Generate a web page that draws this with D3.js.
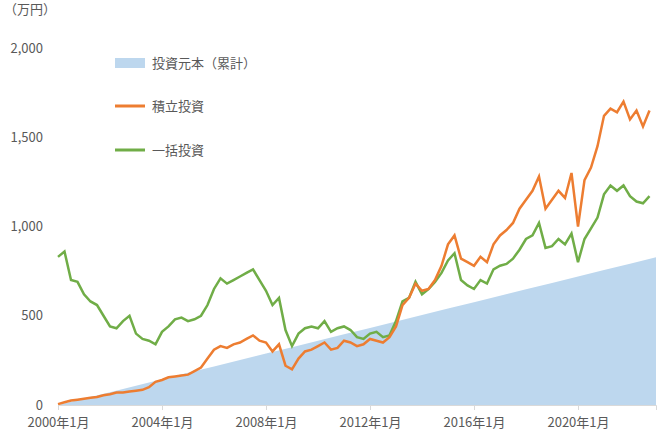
<!DOCTYPE html>
<html><head><meta charset="utf-8">
<script src="https://cdn.jsdelivr.net/npm/d3@7"></script>
<style>body{margin:0;background:#fff}text{font-family:"Noto Sans CJK JP","Noto Sans",sans-serif;fill:#595959}</style>
</head><body><div id="chart"></div>
<script>
// year marks (start of year) and cumulative principal, 万円
const principalYears = [2000,2001,2002,2003,2004,2005,2006,2007,2008,2009,2010,2011,2012,2013,2014,2015,2016,2017,2018,2019,2020,2021,2022,2023]
const principal = [0,36,72,108,144,180,216,252,288,324,360,396,432,468,504,540,576,612,648,684,720,756,792,828]

// quarterly values, 2000Q1 .. 2022Q4
const tsumitate = [5,15,25,30, 35,40,45,55, 60,70,70,75, 80,85,100,130, 140,155,160,165, 170,190,210,260,
  310,330,320,340, 350,370,390,360, 350,300,340,220, 200,260,300,310, 330,350,310,320, 360,350,330,340,
  370,360,350,380, 440,560,600,680, 640,650,700,780, 900,950,820,800, 780,830,800,900, 950,980,1020,1100,
  1150,1200,1280,1100, 1150,1200,1160,1300, 1000,1260,1330,1450, 1620,1660,1640,1700, 1600,1650,1560,1650]
const ikkatsu = [830,860,700,690, 620,580,560,500, 440,430,470,500, 400,370,360,340, 410,440,480,490, 470,480,500,560,
  650,710,680,700, 720,740,760,700, 640,560,600,420, 330,400,430,440, 430,470,410,430, 440,420,380,370,
  400,410,380,390, 470,580,600,690, 620,650,690,740, 810,850,700,670, 650,700,680,760, 780,790,820,870,
  930,950,1020,880, 890,930,900,960, 800,930,990,1050, 1180,1230,1200,1230, 1170,1140,1130,1170]

const yTicks = [0,500,1000,1500,2000]
const xTicks = [2000,2004,2008,2012,2016,2020]
const legendNames = ['投資元本（累計）','積立投資','一括投資']
const colors = ['#bdd7ee','#ed7d31','#70ad47']

const svg = d3.select('#chart').append('svg').attr('width',660).attr('height',440)
const x = d3.scaleLinear().domain([2000,2023]).range([58,656])
const y = d3.scaleLinear().domain([0,2000]).range([405,48])

svg.append('path')
  .attr('d', d3.area().x((d,i)=>x(principalYears[i])).y0(y(0)).y1(d=>y(d))(principal))
  .attr('fill', colors[0])

const line = d3.line().x((d,i)=>x(2000 + i/4)).y(d=>y(d))
svg.append('path').attr('d', line(ikkatsu)).attr('fill','none').attr('stroke',colors[2]).attr('stroke-width',2.5)
svg.append('path').attr('d', line(tsumitate)).attr('fill','none').attr('stroke',colors[1]).attr('stroke-width',2.5)

// axes
const xAxis = svg.append('g').attr('transform','translate(0,405)')
  .call(d3.axisBottom(x).tickValues(xTicks).tickSize(5).tickFormat(d=>d+'年1月'))
xAxis.select('.domain').attr('stroke','#d9d9d9')
xAxis.selectAll('line').attr('stroke','#d9d9d9')
xAxis.selectAll('text').attr('font-size',13).attr('dy','1.1em')

const yAxis = svg.append('g').attr('transform','translate(46,0)')
  .call(d3.axisLeft(y).tickValues(yTicks).tickSize(0).tickFormat(d3.format(',')))
yAxis.select('.domain').remove()
yAxis.selectAll('text').attr('font-size',13)

svg.append('text').attr('x',4).attr('y',14).attr('font-size',13).text('（万円）')

// legend
const lg = svg.append('g')
legendNames.forEach((n,i)=>{
  const ly = [63,106,150][i]
  if (i===0) lg.append('rect').attr('x',115).attr('y',ly-5).attr('width',30).attr('height',10).attr('fill',colors[0])
  else lg.append('line').attr('x1',115).attr('x2',145).attr('y1',ly).attr('y2',ly).attr('stroke',colors[i]).attr('stroke-width',3)
  lg.append('text').attr('x',152).attr('y',ly+5).attr('font-size',13).text(n)
})
</script></body></html>
